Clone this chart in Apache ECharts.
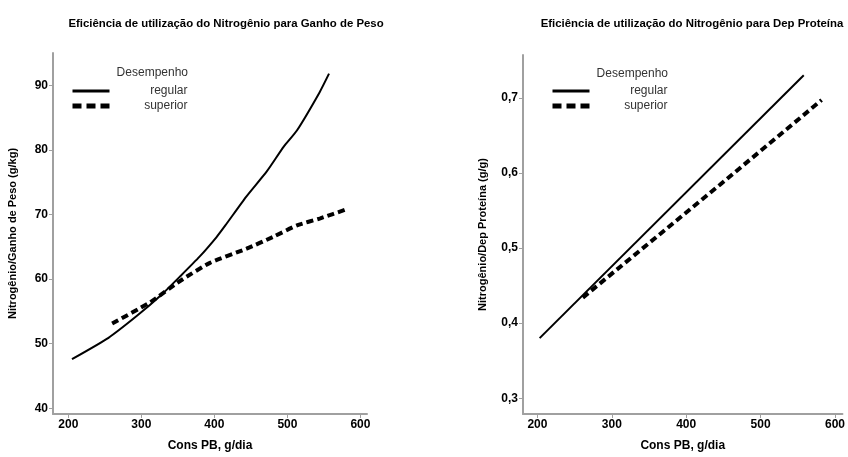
<!DOCTYPE html>
<html><head><meta charset="utf-8">
<script src="https://cdn.jsdelivr.net/npm/echarts@6/dist/echarts.min.js"></script>
<style>html,body{margin:0;padding:0;background:#fff}#c{width:848px;height:457px}</style>
</head><body><div id="c"></div>
<script>
// Left chart: Nitrogênio/Ganho de Peso
const gpRegularX = [205, 255, 294, 326, 353, 380, 403, 415, 444, 472, 495, 513, 544, 557];
const gpRegularY = [47.6, 50.9, 54.3, 57.4, 60.4, 63.5, 66.5, 68.3, 72.8, 76.7, 80.5, 83.0, 88.9, 91.8];
const gpSuperiorX = [260, 312, 353, 394, 444, 480, 513, 545, 581];
const gpSuperiorY = [53.1, 56.4, 59.7, 62.5, 64.7, 66.5, 68.3, 69.4, 70.8];
// Right chart: Nitrogênio/Dep Proteína
const dpRegularX = [203, 558];
const dpRegularY = [0.380, 0.730];
const dpSuperiorX = [261, 445, 582];
const dpSuperiorY = [0.434, 0.584, 0.697];
const xTicks = [200, 300, 400, 500, 600];
const gpTicks = [40, 50, 60, 70, 80, 90];
const dpTicks = [0.3, 0.4, 0.5, 0.6, 0.7];
const titles = ['Eficiência de utilização do Nitrogênio para Ganho de Peso', 'Eficiência de utilização do Nitrogênio para Dep Proteína'];
const yNames = ['Nitrogênio/Ganho de Peso (g/kg)', 'Nitrogênio/Dep Proteína (g/g)'];
const xName = 'Cons PB, g/dia';
const legendTitle = 'Desempenho';
const seriesNames = ['regular', 'superior'];

const pairs = (xs, ys) => xs.map((x, i) => [x, ys[i]]);
const FONT = "'Liberation Sans',Arial,sans-serif";
const axisGray = '#a0a0a0';
const tickLabel = {fontFamily: FONT, fontWeight: 'bold', fontSize: 12, color: '#000'};

function xAxis(gi, min, max) {
  return {
    type: 'value', gridIndex: gi, min: min, max: max,
    name: xName, nameLocation: 'middle', nameGap: 26,
    nameTextStyle: {fontFamily: FONT, fontWeight: 'bold', fontSize: 12, color: '#000'},
    axisLine: {show: true, lineStyle: {color: axisGray, width: 2}},
    axisTick: {show: true, length: 4, lineStyle: {color: axisGray}, customValues: xTicks},
    axisLabel: Object.assign({margin: 5, customValues: xTicks}, tickLabel),
    splitLine: {show: false}
  };
}
function yAxis(gi, min, max, ticks, name, fmt) {
  return {
    type: 'value', gridIndex: gi, min: min, max: max,
    name: name, nameLocation: 'middle', nameGap: 35,
    nameTextStyle: {fontFamily: FONT, fontWeight: 'bold', fontSize: 11, color: '#000'},
    axisLine: {show: true, lineStyle: {color: axisGray, width: 2}},
    axisTick: {show: true, length: 4, lineStyle: {color: axisGray}, customValues: ticks},
    axisLabel: Object.assign({margin: 5, customValues: ticks, formatter: fmt}, tickLabel),
    splitLine: {show: false}
  };
}
const regStyle = {color: '#000', width: 2, type: 'solid'};
const supStyle = {color: '#000', width: 4, type: [7, 4]};
const legendLineStyles = [
  {color: '#000', width: 3, type: 'solid'},
  {color: '#000', width: 5, type: [9, 5]}
];

function legend(left, top) {
  return {
    orient: 'vertical', left: left, top: top, itemWidth: 37, itemHeight: 14, itemGap: 3,
    padding: 0,
    itemStyle: {opacity: 0},
    data: seriesNames.map((n, i) => ({name: n, lineStyle: legendLineStyles[i], itemStyle: {opacity: 0}})),
    formatter: (n) => '{a|' + n + '}',
    textStyle: {rich: {a: {width: 73, align: 'right', fontFamily: FONT, fontSize: 12, color: '#333'}}},
    selectedMode: false
  };
}

const titleStyle = {fontFamily: FONT, fontWeight: 'bold', fontSize: 11.4, color: '#000'};
const legTitleStyle = {fontFamily: FONT, fontWeight: 'normal', fontSize: 12, color: '#333'};
const option = {
  animation: false,
  backgroundColor: '#fff',
  title: [
    {text: titles[0], left: 226, top: 18, textAlign: 'center', padding: 0, textStyle: titleStyle},
    {text: titles[1], left: 692, top: 18, textAlign: 'center', padding: 0, textStyle: titleStyle},
    {text: legendTitle, right: 660, top: 67, padding: 0, textStyle: legTitleStyle},
    {text: legendTitle, right: 180, top: 68, padding: 0, textStyle: legTitleStyle}
  ],
  legend: [legend(70, 85), legend(550, 85)],
  grid: [
    {left: 53, right: 481, top: 53, bottom: 37},
    {left: 523, right: 5, top: 55, bottom: 41}
  ],
  xAxis: [xAxis(0, 179, 609), xAxis(1, 180.6, 610)],
  yAxis: [
    yAxis(0, 39.1, 95, gpTicks, yNames[0], (v) => String(v)),
    yAxis(1, 0.279, 0.757, dpTicks, yNames[1], (v) => v.toFixed(1).replace('.', ','))
  ],
  series: [
    {name: 'regular', type: 'line', xAxisIndex: 0, yAxisIndex: 0, data: pairs(gpRegularX, gpRegularY),
     symbol: 'none', smooth: 0.2, lineStyle: regStyle, itemStyle: {color: '#000'}},
    {name: 'superior', type: 'line', xAxisIndex: 0, yAxisIndex: 0, data: pairs(gpSuperiorX, gpSuperiorY),
     symbol: 'none', smooth: 0.2, lineStyle: supStyle, itemStyle: {color: '#000'}},
    {name: 'regular', type: 'line', xAxisIndex: 1, yAxisIndex: 1, data: pairs(dpRegularX, dpRegularY),
     symbol: 'none', lineStyle: regStyle, itemStyle: {color: '#000'}},
    {name: 'superior', type: 'line', xAxisIndex: 1, yAxisIndex: 1, data: pairs(dpSuperiorX, dpSuperiorY),
     symbol: 'none', lineStyle: supStyle, itemStyle: {color: '#000'}}
  ]
};
const chart = echarts.init(document.getElementById('c'), null, {renderer: 'canvas'});
chart.setOption(option);
</script></body></html>
